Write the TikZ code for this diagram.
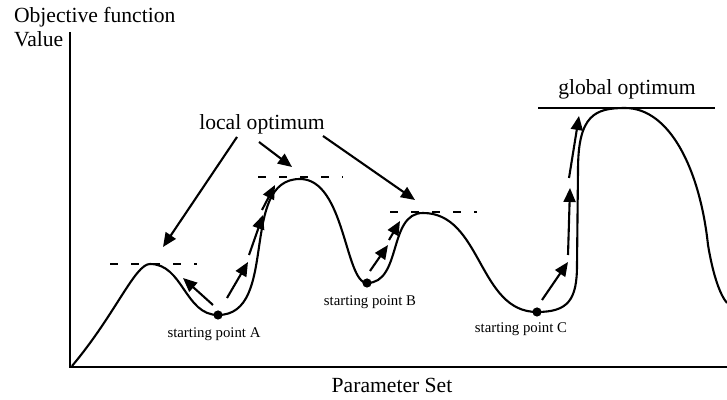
\documentclass[tikz,border=0pt]{standalone}
\usepackage{fontspec}
\setmainfont{Liberation Serif}
\usetikzlibrary{arrows.meta}
\tikzset{
  lbl/.style={inner sep=0pt,font=\fontsize{10.8}{13}\selectfont},
  startlbl/.style={inner sep=0pt,font=\fontsize{7.4}{9}\selectfont},
  optline/.style={-,line width=1.2pt,dash pattern=on 4.2pt off 6.3pt},
  startpt/.style={circle,fill,inner sep=0pt,minimum size=4.6pt},
}
\begin{document}
\begin{tikzpicture}[x=0.5pt,y=0.5pt,->,>={Triangle[length=7pt,width=6pt]},line width=1.05pt]
\useasboundingbox (0,0) rectangle (727,400);
\draw [-,line width=1.15pt] (70,368)--(70,33)--(727,33);
\node[lbl,anchor=base west] (objlbl) at (13,377) {Objective function};
\node[lbl,anchor=base west] (vallbl) at (13,353) {Value};
\node[lbl,anchor=base] (parlbl) at (392,7) {Parameter Set};
\draw [-] (72,34) .. controls (115,85) and (135,136) .. (150,136)
    to[out=0,in=180] (218,85) to[out=0,in=180] (300,221)
    .. controls (345,221) and (345,117) .. (367,117)
    to[out=0,in=180] (423,187) to[out=0,in=180] (537,88)
    .. controls (568,88) and (577,100) .. (577,135) -- (578,230)
    .. controls (578,285) and (595,292) .. (625,292)
    .. controls (670,292) and (700,230) .. (708,155)
    .. controls (713,125) and (720,105) .. (727,97);
\draw [optline] (110,136)--(197,136);
\draw [optline] (258,223)--(343,223);
\draw [optline] (390,188)--(477,188);
\draw [-] (538,292)--(715,292);
\node[lbl,anchor=base] (globlbl) at (627,305) {global optimum};
\node[lbl,anchor=base] (loclbl) at (262,270) {local optimum};
\node[startpt] (ptA) at (218,85) {};
\node[startpt] (ptB) at (367,117) {};
\node[startpt] (ptC) at (537,88) {};
\node[startlbl,anchor=base] (txtA) at (214,62) {starting point A};
\node[startlbl,anchor=base] (txtB) at (370,94) {starting point B};
\node[startlbl,anchor=base] (txtC) at (521,67) {starting point C};
\foreach \n/\s/\e in {l1/{237,263}/{163,153},l2/{259,258}/{292,233},l3/{323,264}/{415,200},
    a0/{213,95}/{183,122},a1/{227,102}/{248,138},a2/{249,145}/{263,185},a3/{262,190}/{275,215},
    b1/{370,129}/{388,155},b2/{389,160}/{400,179},
    c1/{542,100}/{568,138},c2/{568,145}/{570,212},c3/{569,222}/{579,284}}{
  \coordinate (\n s) at (\s);
  \coordinate (\n e) at (\e);
  \draw (\n s)--(\n e);
}
\end{tikzpicture}
\end{document}
